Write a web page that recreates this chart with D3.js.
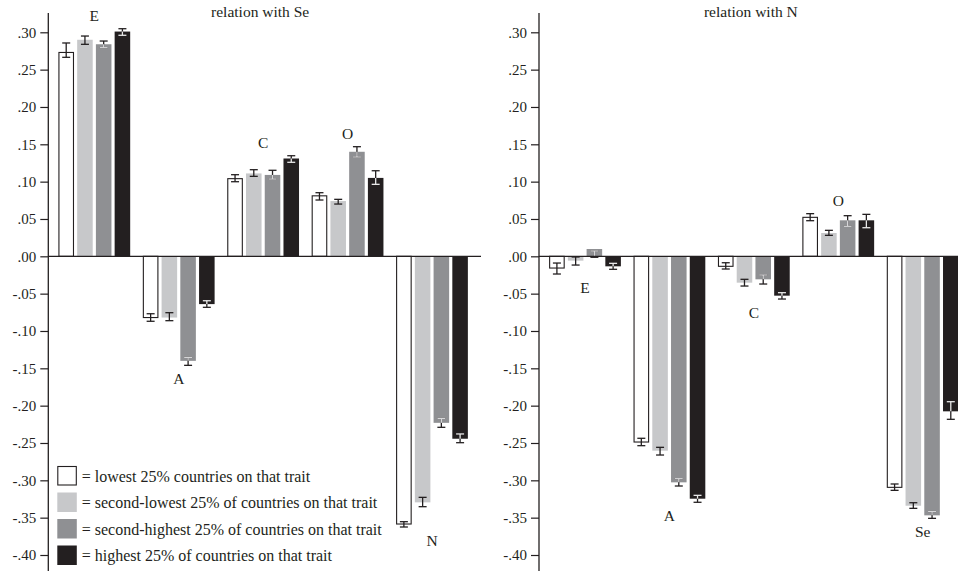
<!DOCTYPE html>
<html>
<head>
<meta charset="utf-8">
<script src="https://cdn.jsdelivr.net/npm/d3@7"></script>
<style>
  html, body { margin: 0; padding: 0; background: #fff; }
  svg { display: block; }
  text { font-family: "Liberation Serif", "Times New Roman", serif; fill: #231f20; }
</style>
</head>
<body>
<svg id="chart" width="958" height="571"></svg>
<script>
// ---------------- DATA ----------------
const seriesNames = [
  "lowest 25% countries on that trait",
  "second-lowest 25% of countries on that trait",
  "second-highest 25% of countries on that trait",
  "highest 25% of countries on that trait"
];
const seriesColors = ["#ffffff", "#c7c8ca", "#8f9093", "#231f20"];

const tickValues = [-0.40, -0.35, -0.30, -0.25, -0.20, -0.15, -0.10, -0.05, 0.00, 0.05, 0.10, 0.15, 0.20, 0.25, 0.30];

// Panel 1: relation with Se
const titleSe = "relation with Se";
const traitsSe = ["E", "A", "C", "O", "N"];
const valuesSe = [
  [0.273, 0.290, 0.284, 0.301],
  [-0.082, -0.082, -0.140, -0.064],
  [0.104, 0.111, 0.109, 0.131],
  [0.081, 0.074, 0.140, 0.105],
  [-0.3585, -0.3295, -0.223, -0.2443]
];
const errHiSe = [
  [0.2857, 0.2950, 0.2883, 0.3048],
  [-0.0769, -0.0755, -0.1353, -0.0595],
  [0.1093, 0.1160, 0.1152, 0.1347],
  [0.0852, 0.0763, 0.1468, 0.1146],
  [-0.3554, -0.3228, -0.2170, -0.2379]
];
const errLoSe = [
  [0.2665, 0.2839, 0.2794, 0.2960],
  [-0.0870, -0.0862, -0.1460, -0.0683],
  [0.0999, 0.1071, 0.1035, 0.1259],
  [0.0754, 0.0700, 0.1330, 0.0964],
  [-0.3625, -0.3353, -0.2290, -0.2496]
];

// Panel 2: relation with N
const titleN = "relation with N";
const traitsN = ["E", "A", "C", "O", "Se"];
const valuesN = [
  [-0.0157, -0.0058, 0.0098, -0.0134],
  [-0.2487, -0.2603, -0.3027, -0.3246],
  [-0.0134, -0.0353, -0.0308, -0.0527],
  [0.0522, 0.0312, 0.0482, 0.0482],
  [-0.3094, -0.3340, -0.3469, -0.2076]
];
const errHiN = [
  [-0.0090, -0.0009, 0.0071, -0.0094],
  [-0.2437, -0.2558, -0.2978, -0.3201],
  [-0.0086, -0.0308, -0.0250, -0.0487],
  [0.0571, 0.0348, 0.0544, 0.0562],
  [-0.3049, -0.3300, -0.3418, -0.1947]
];
const errLoN = [
  [-0.0237, -0.0117, -0.0013, -0.0174],
  [-0.2536, -0.2661, -0.3076, -0.3294],
  [-0.0170, -0.0398, -0.0371, -0.0572],
  [0.0477, 0.0281, 0.0402, 0.0383],
  [-0.3134, -0.3375, -0.3509, -0.2183]
];

// ---------------- DRAW ----------------
const svg = d3.select("#chart");
const ink = "#231f20";
const y = d3.scaleLinear().domain([-0.40, 0.30]).range([555, 32.3]);
const fmt = v => {
  const s = d3.format(".2f")(Math.abs(v)).replace(/^0/, "");
  return (v < -1e-9 ? "-" : "") + s;
};
const innerColor = ["none", "none", "#d6d6d8", "#e8e8e8"];

function panel(x0, x1, zeroEnd, title, traits, values, errLo, errHi) {
  const g = svg.append("g");
  const xOuter = d3.scaleBand().domain(traits).range([x0, x1]).paddingInner(0.15).paddingOuter(0.12);
  const xInner = d3.scaleBand().domain(d3.range(4)).range([0, xOuter.bandwidth()]).paddingInner(0.17);

  // y axis
  const axis = d3.axisLeft(y).tickValues(tickValues).tickFormat(fmt).tickSize(8).tickPadding(4);
  const ag = g.append("g").attr("transform", `translate(${x0},0)`).call(axis);
  ag.select(".domain").remove();
  ag.selectAll(".tick line").attr("stroke", ink).attr("stroke-width", 1.2);
  ag.selectAll(".tick text").attr("font-size", 15).attr("font-family", '"Liberation Serif", serif').attr("fill", ink);
  g.append("line").attr("x1", x0).attr("x2", x0).attr("y1", 13).attr("y2", 571)
    .attr("stroke", ink).attr("stroke-width", 1.3);

  // title
  g.append("text").attr("x", (x0 + x1) / 2 - 3).attr("y", 17).attr("text-anchor", "middle")
    .attr("font-size", 15.5).text(title);

  traits.forEach((t, i) => {
    const gx = xOuter(t);
    values[i].forEach((v, j) => {
      const bx = gx + xInner(j);
      const bw = xInner.bandwidth();
      const top = y(Math.max(0, v)), bot = y(Math.min(0, v));
      if (j === 0) {
        g.append("rect").attr("x", bx + 0.5).attr("y", top).attr("width", bw - 1).attr("height", Math.max(0, bot - top))
          .attr("fill", "#fff").attr("stroke", ink).attr("stroke-width", 1.1);
      } else {
        g.append("rect").attr("x", bx).attr("y", top).attr("width", bw).attr("height", bot - top)
          .attr("fill", seriesColors[j]);
      }
      // error bar
      const cx = bx + bw / 2;
      const lo = errLo[i][j], hi = errHi[i][j];
      const cap = 4;
      const drawErr = (a, b, color, capA, capB) => {
        g.append("line").attr("x1", cx).attr("x2", cx).attr("y1", y(a)).attr("y2", y(b))
          .attr("stroke", color).attr("stroke-width", 1.3);
        if (capA) g.append("line").attr("x1", cx - cap).attr("x2", cx + cap).attr("y1", y(a)).attr("y2", y(a))
          .attr("stroke", color).attr("stroke-width", 1.3);
        if (capB) g.append("line").attr("x1", cx - cap).attr("x2", cx + cap).attr("y1", y(b)).attr("y2", y(b))
          .attr("stroke", color).attr("stroke-width", 1.3);
      };
      drawErr(lo, hi, ink, true, true);
      if (innerColor[j] !== "none") {
        const bmin = Math.min(0, v), bmax = Math.max(0, v);
        const a = Math.max(lo, bmin), b = Math.min(hi, bmax);
        if (b > a) drawErr(a, b, innerColor[j], a === lo, b === hi);
      }
    });
    // group label
    const allV = values[i].concat(errLo[i], errHi[i]);
    const pos = d3.sum(values[i]) > 0;
    const cxg = gx + xOuter.bandwidth() / 2;
    if (pos) {
      g.append("text").attr("x", cxg).attr("y", y(d3.max(allV)) - 8).attr("text-anchor", "middle")
        .attr("font-size", 15.5).text(t);
    } else {
      g.append("text").attr("x", cxg).attr("y", y(d3.min(allV)) + 19).attr("text-anchor", "middle")
        .attr("font-size", 15.5).text(t);
    }
  });

  // zero line
  g.append("line").attr("x1", x0).attr("x2", zeroEnd).attr("y1", y(0)).attr("y2", y(0))
    .attr("stroke", ink).attr("stroke-width", 1.3);
  return g;
}

panel(48.3, 478, 481, titleSe, traitsSe, valuesSe, errLoSe, errHiSe);
panel(539, 968.7, 958, titleN, traitsN, valuesN, errLoN, errHiN);

// legend
const lg = svg.append("g");
seriesNames.forEach((name, j) => {
  const yy = 466 + j * 26.5;
  if (j === 0) {
    lg.append("rect").attr("x", 57.8).attr("y", yy + 0.5).attr("width", 18.5).attr("height", 18.5)
      .attr("fill", "#fff").attr("stroke", ink).attr("stroke-width", 1.1);
  } else {
    lg.append("rect").attr("x", 57.3).attr("y", yy).attr("width", 19.5).attr("height", 19.5)
      .attr("fill", seriesColors[j]);
  }
  lg.append("text").attr("x", 81.7).attr("y", yy + 15.5).attr("font-size", 16).text("= " + name);
});
</script>
</body>
</html>
